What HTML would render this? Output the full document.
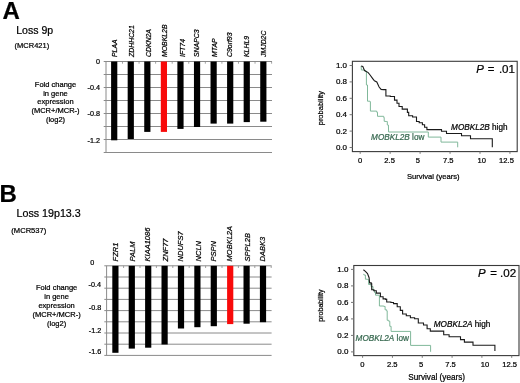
<!DOCTYPE html>
<html><head><meta charset="utf-8"><title>Figure</title>
<style>
html,body{margin:0;padding:0;background:#fff;}
body{width:520px;height:383px;overflow:hidden;}
svg{display:block;will-change:transform;}
text{font-family:"Liberation Sans", sans-serif;fill:#000;stroke:#000;stroke-width:0.22px;}
</style></head>
<body>
<svg width="520" height="383" viewBox="0 0 520 383" font-family='"Liberation Sans", sans-serif'>
<rect width="520" height="383" fill="#fff"/>
<text x="2.6" y="19.3" font-size="24" font-weight="bold">A</text>
<text x="16.2" y="33.5" font-size="10.55">Loss 9p</text>
<text x="14.6" y="48.1" font-size="7.5">(MCR421)</text>
<text x="-0.4" y="202.2" font-size="24" font-weight="bold">B</text>
<text x="16.5" y="217.0" font-size="10.7">Loss 19p13.3</text>
<text x="11.3" y="232.6" font-size="7.6">(MCR537)</text>
<text x="55.5" y="86.80" font-size="7.5" text-anchor="middle">Fold change</text>
<text x="55.5" y="95.55" font-size="7.5" text-anchor="middle">in gene</text>
<text x="55.5" y="104.30" font-size="7.5" text-anchor="middle">expression</text>
<text x="55.5" y="113.05" font-size="7.5" text-anchor="middle">(MCR+/MCR-)</text>
<text x="55.5" y="121.80" font-size="7.5" text-anchor="middle">(log2)</text>
<text x="56.6" y="289.60" font-size="7.5" text-anchor="middle">Fold change</text>
<text x="56.6" y="298.60" font-size="7.5" text-anchor="middle">in gene</text>
<text x="56.6" y="307.60" font-size="7.5" text-anchor="middle">expression</text>
<text x="56.6" y="316.60" font-size="7.5" text-anchor="middle">(MCR+/MCR-)</text>
<text x="56.6" y="325.60" font-size="7.5" text-anchor="middle">(log2)</text>
<line x1="103.70" y1="61.50" x2="272.00" y2="61.50" stroke="#8a8a8a" stroke-width="1"/>
<line x1="103.70" y1="74.50" x2="272.00" y2="74.50" stroke="#8a8a8a" stroke-width="1"/>
<line x1="103.70" y1="87.50" x2="272.00" y2="87.50" stroke="#8a8a8a" stroke-width="1"/>
<line x1="103.70" y1="100.50" x2="272.00" y2="100.50" stroke="#8a8a8a" stroke-width="1"/>
<line x1="103.70" y1="113.50" x2="272.00" y2="113.50" stroke="#8a8a8a" stroke-width="1"/>
<line x1="103.70" y1="126.50" x2="272.00" y2="126.50" stroke="#8a8a8a" stroke-width="1"/>
<line x1="103.70" y1="139.50" x2="272.00" y2="139.50" stroke="#8a8a8a" stroke-width="1"/>
<line x1="103.70" y1="152.50" x2="272.00" y2="152.50" stroke="#8a8a8a" stroke-width="1"/>
<line x1="106.00" y1="61.50" x2="106.00" y2="152.50" stroke="#8a8a8a" stroke-width="1"/>
<line x1="122.48" y1="61.50" x2="122.48" y2="63.70" stroke="#8a8a8a" stroke-width="0.8"/>
<line x1="139.05" y1="61.50" x2="139.05" y2="63.70" stroke="#8a8a8a" stroke-width="0.8"/>
<line x1="155.62" y1="61.50" x2="155.62" y2="63.70" stroke="#8a8a8a" stroke-width="0.8"/>
<line x1="172.19" y1="61.50" x2="172.19" y2="63.70" stroke="#8a8a8a" stroke-width="0.8"/>
<line x1="188.76" y1="61.50" x2="188.76" y2="63.70" stroke="#8a8a8a" stroke-width="0.8"/>
<line x1="205.33" y1="61.50" x2="205.33" y2="63.70" stroke="#8a8a8a" stroke-width="0.8"/>
<line x1="221.90" y1="61.50" x2="221.90" y2="63.70" stroke="#8a8a8a" stroke-width="0.8"/>
<line x1="238.47" y1="61.50" x2="238.47" y2="63.70" stroke="#8a8a8a" stroke-width="0.8"/>
<line x1="255.04" y1="61.50" x2="255.04" y2="63.70" stroke="#8a8a8a" stroke-width="0.8"/>
<line x1="271.62" y1="61.50" x2="271.62" y2="63.70" stroke="#8a8a8a" stroke-width="0.8"/>
<rect x="111.10" y="61.50" width="6.20" height="78.80" fill="#000"/>
<rect x="127.67" y="61.50" width="6.20" height="77.50" fill="#000"/>
<rect x="144.24" y="61.50" width="6.20" height="70.40" fill="#000"/>
<rect x="160.81" y="61.50" width="6.20" height="70.40" fill="#f80a0a"/>
<rect x="177.38" y="61.50" width="6.20" height="67.40" fill="#000"/>
<rect x="193.95" y="61.50" width="6.20" height="65.50" fill="#000"/>
<rect x="210.52" y="61.50" width="6.20" height="62.10" fill="#000"/>
<rect x="227.09" y="61.50" width="6.20" height="62.10" fill="#000"/>
<rect x="243.66" y="61.50" width="6.20" height="60.60" fill="#000"/>
<rect x="260.23" y="61.50" width="6.20" height="60.20" fill="#000"/>
<text transform="translate(117.40,57.00) rotate(-90)" font-size="6.9" font-style="italic">PLAA</text>
<text transform="translate(133.97,57.00) rotate(-90)" font-size="6.9" font-style="italic">ZDHHC21</text>
<text transform="translate(150.54,57.00) rotate(-90)" font-size="6.9" font-style="italic">CDKN2A</text>
<text transform="translate(167.11,57.00) rotate(-90)" font-size="6.9" font-style="italic">MOBKL2B</text>
<text transform="translate(184.98,57.00) rotate(-90)" font-size="6.9" font-style="italic">IFT74</text>
<text transform="translate(199.45,57.00) rotate(-90)" font-size="6.9" font-style="italic">SNAPC3</text>
<text transform="translate(216.82,57.00) rotate(-90)" font-size="6.9" font-style="italic">MTAP</text>
<text transform="translate(232.19,57.00) rotate(-90)" font-size="6.9" font-style="italic">C9orf93</text>
<text transform="translate(249.46,57.00) rotate(-90)" font-size="6.9" font-style="italic">KLHL9</text>
<text transform="translate(265.63,57.00) rotate(-90)" font-size="6.9" font-style="italic">JMJD2C</text>
<text x="100.0" y="63.7" font-size="7.2" text-anchor="end">0</text>
<text x="100.0" y="89.8" font-size="7.2" text-anchor="end">-0.4</text>
<text x="100.0" y="116.3" font-size="7.2" text-anchor="end">-0.8</text>
<text x="100.0" y="142.6" font-size="7.2" text-anchor="end">-1.2</text>
<line x1="104.30" y1="265.80" x2="271.60" y2="265.80" stroke="#8a8a8a" stroke-width="1"/>
<line x1="104.30" y1="277.00" x2="271.60" y2="277.00" stroke="#8a8a8a" stroke-width="1"/>
<line x1="104.30" y1="288.20" x2="271.60" y2="288.20" stroke="#8a8a8a" stroke-width="1"/>
<line x1="104.30" y1="299.40" x2="271.60" y2="299.40" stroke="#8a8a8a" stroke-width="1"/>
<line x1="104.30" y1="310.60" x2="271.60" y2="310.60" stroke="#8a8a8a" stroke-width="1"/>
<line x1="104.30" y1="321.80" x2="271.60" y2="321.80" stroke="#8a8a8a" stroke-width="1"/>
<line x1="104.30" y1="333.00" x2="271.60" y2="333.00" stroke="#8a8a8a" stroke-width="1"/>
<line x1="104.30" y1="344.20" x2="271.60" y2="344.20" stroke="#8a8a8a" stroke-width="1"/>
<line x1="104.30" y1="355.40" x2="271.60" y2="355.40" stroke="#8a8a8a" stroke-width="1"/>
<line x1="106.60" y1="265.80" x2="106.60" y2="355.40" stroke="#8a8a8a" stroke-width="1"/>
<line x1="123.60" y1="265.80" x2="123.60" y2="268.00" stroke="#8a8a8a" stroke-width="0.8"/>
<line x1="140.00" y1="265.80" x2="140.00" y2="268.00" stroke="#8a8a8a" stroke-width="0.8"/>
<line x1="156.40" y1="265.80" x2="156.40" y2="268.00" stroke="#8a8a8a" stroke-width="0.8"/>
<line x1="172.80" y1="265.80" x2="172.80" y2="268.00" stroke="#8a8a8a" stroke-width="0.8"/>
<line x1="189.20" y1="265.80" x2="189.20" y2="268.00" stroke="#8a8a8a" stroke-width="0.8"/>
<line x1="205.60" y1="265.80" x2="205.60" y2="268.00" stroke="#8a8a8a" stroke-width="0.8"/>
<line x1="222.00" y1="265.80" x2="222.00" y2="268.00" stroke="#8a8a8a" stroke-width="0.8"/>
<line x1="238.40" y1="265.80" x2="238.40" y2="268.00" stroke="#8a8a8a" stroke-width="0.8"/>
<line x1="254.80" y1="265.80" x2="254.80" y2="268.00" stroke="#8a8a8a" stroke-width="0.8"/>
<line x1="271.20" y1="265.80" x2="271.20" y2="268.00" stroke="#8a8a8a" stroke-width="0.8"/>
<rect x="112.30" y="265.80" width="6.20" height="87.00" fill="#000"/>
<rect x="128.70" y="265.80" width="6.20" height="82.80" fill="#000"/>
<rect x="145.10" y="265.80" width="6.20" height="81.90" fill="#000"/>
<rect x="161.50" y="265.80" width="6.20" height="78.70" fill="#000"/>
<rect x="177.90" y="265.80" width="6.20" height="62.70" fill="#000"/>
<rect x="194.30" y="265.80" width="6.20" height="61.40" fill="#000"/>
<rect x="210.70" y="265.80" width="6.20" height="60.40" fill="#000"/>
<rect x="227.10" y="265.80" width="6.20" height="58.30" fill="#f80a0a"/>
<rect x="243.50" y="265.80" width="6.20" height="57.90" fill="#000"/>
<rect x="259.90" y="265.80" width="6.20" height="56.40" fill="#000"/>
<text transform="translate(118.20,261.40) rotate(-90)" font-size="7.5" font-style="italic">FZR1</text>
<text transform="translate(134.50,261.40) rotate(-90)" font-size="7.5" font-style="italic">PALM</text>
<text transform="translate(149.60,261.40) rotate(-90)" font-size="7.5" font-style="italic">KIAA1086</text>
<text transform="translate(167.60,261.40) rotate(-90)" font-size="7.5" font-style="italic">ZNF77</text>
<text transform="translate(183.20,261.40) rotate(-90)" font-size="7.5" font-style="italic">NDUFS7</text>
<text transform="translate(200.50,261.40) rotate(-90)" font-size="7.5" font-style="italic">NCLN</text>
<text transform="translate(215.70,261.40) rotate(-90)" font-size="7.5" font-style="italic">PSPN</text>
<text transform="translate(232.20,261.40) rotate(-90)" font-size="7.5" font-style="italic">MOBKL2A</text>
<text transform="translate(249.70,261.40) rotate(-90)" font-size="7.5" font-style="italic">SPPL2B</text>
<text transform="translate(265.00,261.40) rotate(-90)" font-size="7.5" font-style="italic">DABK3</text>
<text x="92.2" y="264.8" font-size="7.2" text-anchor="middle">0</text>
<text x="101.0" y="287.2" font-size="7.2" text-anchor="end">-0.4</text>
<text x="101.2" y="310.2" font-size="7.2" text-anchor="end">-0.8</text>
<text x="101.2" y="332.6" font-size="7.2" text-anchor="end">-1.2</text>
<text x="101.2" y="353.6" font-size="7.2" text-anchor="end">-1.6</text>
<rect x="352.40" y="61.30" width="164.80" height="90.30" fill="none" stroke="#3a3a3a" stroke-width="1.1"/>
<line x1="349.60" y1="65.50" x2="352.40" y2="65.50" stroke="#777" stroke-width="1"/>
<text x="347.00" y="67.90" font-size="8.0" text-anchor="end">1.0</text>
<line x1="349.60" y1="81.90" x2="352.40" y2="81.90" stroke="#777" stroke-width="1"/>
<text x="347.00" y="84.30" font-size="8.0" text-anchor="end">0.8</text>
<line x1="349.60" y1="98.30" x2="352.40" y2="98.30" stroke="#777" stroke-width="1"/>
<text x="347.00" y="100.70" font-size="8.0" text-anchor="end">0.6</text>
<line x1="349.60" y1="114.70" x2="352.40" y2="114.70" stroke="#777" stroke-width="1"/>
<text x="347.00" y="117.10" font-size="8.0" text-anchor="end">0.4</text>
<line x1="349.60" y1="131.10" x2="352.40" y2="131.10" stroke="#777" stroke-width="1"/>
<text x="347.00" y="133.50" font-size="8.0" text-anchor="end">0.2</text>
<line x1="349.60" y1="147.50" x2="352.40" y2="147.50" stroke="#777" stroke-width="1"/>
<text x="347.00" y="149.90" font-size="8.0" text-anchor="end">0.0</text>
<line x1="360.20" y1="151.60" x2="360.20" y2="153.80" stroke="#777" stroke-width="1"/>
<text x="360.10" y="162.90" font-size="7.6" text-anchor="middle">0</text>
<line x1="390.15" y1="151.60" x2="390.15" y2="153.80" stroke="#777" stroke-width="1"/>
<text x="389.60" y="162.90" font-size="7.6" text-anchor="middle">2.5</text>
<line x1="420.10" y1="151.60" x2="420.10" y2="153.80" stroke="#777" stroke-width="1"/>
<text x="417.80" y="162.90" font-size="7.6" text-anchor="middle">5</text>
<line x1="450.05" y1="151.60" x2="450.05" y2="153.80" stroke="#777" stroke-width="1"/>
<text x="448.20" y="162.90" font-size="7.6" text-anchor="middle">7.5</text>
<line x1="480.00" y1="151.60" x2="480.00" y2="153.80" stroke="#777" stroke-width="1"/>
<text x="481.80" y="162.90" font-size="7.6" text-anchor="middle">10</text>
<line x1="509.95" y1="151.60" x2="509.95" y2="153.80" stroke="#777" stroke-width="1"/>
<text x="506.50" y="162.90" font-size="7.6" text-anchor="middle">12.5</text>
<polyline points="361.1,66.0 361.4,70.0 364.5,70.0 364.5,70.6 365.9,70.6 365.9,71.6 366.4,71.6 366.4,85.0 367.5,85.0 367.5,101.2 369.9,101.2 369.9,101.7 370.4,101.7 370.4,111.1 376.7,111.1 376.7,112.2 377.5,112.2 377.5,116.3 383.7,116.3 383.7,117.4 384.2,117.4 384.2,121.3 386.8,121.5 387.3,121.5 387.3,124.9 388.4,125.0 388.6,132.0 428.0,132.0 428.3,132.0 428.3,137.1 441.0,137.1 441.0,142.1 457.7,142.1 457.7,147.3" fill="none" stroke="#80b89a" stroke-width="1"/>
<polyline points="361.1,66.0 362.8,66.4 364.5,70.5 368.2,72.6 369.7,74.5 372.9,78.8 374.4,80.8 376.8,82.0 379.1,87.0 381.1,89.4 383.5,89.6 385.9,89.6 385.9,96.0 390.3,96.0 390.3,96.5 394.5,96.5 394.5,100.1 397.0,100.1 397.0,103.3 399.0,103.3 399.0,106.5 402.2,106.5 402.2,109.1 407.4,109.1 407.4,112.4 408.7,112.4 408.7,115.7 412.6,115.7 412.6,117.0 416.5,117.0 416.5,121.5 419.2,121.5 419.2,122.8 422.4,122.8 422.4,124.8 424.6,124.8 424.6,127.3 426.9,127.3 426.9,129.6 440.0,129.6 441.5,129.6 441.5,131.2 445.4,131.2 446.5,131.2 446.5,133.5 460.8,133.5 461.5,133.5 461.5,135.8 469.2,135.8 470.5,135.8 470.5,138.8 492.3,138.8 492.3,147.3" fill="none" stroke="#1a1a1a" stroke-width="1.1"/>
<text x="476.2" y="73.3" font-size="11.4" font-style="italic">P</text>
<text x="487.8" y="73.3" font-size="11.4">=</text>
<text x="498.9" y="73.3" font-size="11.6">.01</text>
<text x="451.1" y="130.0" font-size="8.2"><tspan font-style="italic">MOBKL2B</tspan> high</text>
<text x="371.1" y="140.0" font-size="8.2" style="fill:#36684f;stroke:#36684f"><tspan font-style="italic">MOBKL2B</tspan> low</text>
<text transform="translate(323.2,108.2) rotate(-90)" font-size="7.5" text-anchor="middle">probability</text>
<text x="406.9" y="179.4" font-size="7.6">Survival (years)</text>
<rect x="353.80" y="265.50" width="165.20" height="90.10" fill="none" stroke="#3a3a3a" stroke-width="1.1"/>
<line x1="351.00" y1="269.40" x2="353.80" y2="269.40" stroke="#777" stroke-width="1"/>
<text x="348.40" y="271.80" font-size="8.0" text-anchor="end">1.0</text>
<line x1="351.00" y1="285.90" x2="353.80" y2="285.90" stroke="#777" stroke-width="1"/>
<text x="348.40" y="288.30" font-size="8.0" text-anchor="end">0.8</text>
<line x1="351.00" y1="302.40" x2="353.80" y2="302.40" stroke="#777" stroke-width="1"/>
<text x="348.40" y="304.80" font-size="8.0" text-anchor="end">0.6</text>
<line x1="351.00" y1="318.90" x2="353.80" y2="318.90" stroke="#777" stroke-width="1"/>
<text x="348.40" y="321.30" font-size="8.0" text-anchor="end">0.4</text>
<line x1="351.00" y1="335.40" x2="353.80" y2="335.40" stroke="#777" stroke-width="1"/>
<text x="348.40" y="337.80" font-size="8.0" text-anchor="end">0.2</text>
<line x1="351.00" y1="351.90" x2="353.80" y2="351.90" stroke="#777" stroke-width="1"/>
<text x="348.40" y="354.30" font-size="8.0" text-anchor="end">0.0</text>
<line x1="362.60" y1="355.60" x2="362.60" y2="357.80" stroke="#777" stroke-width="1"/>
<text x="362.40" y="366.80" font-size="7.6" text-anchor="middle">0</text>
<line x1="392.43" y1="355.60" x2="392.43" y2="357.80" stroke="#777" stroke-width="1"/>
<text x="392.20" y="366.80" font-size="7.6" text-anchor="middle">2.5</text>
<line x1="422.25" y1="355.60" x2="422.25" y2="357.80" stroke="#777" stroke-width="1"/>
<text x="421.00" y="366.80" font-size="7.6" text-anchor="middle">5</text>
<line x1="452.08" y1="355.60" x2="452.08" y2="357.80" stroke="#777" stroke-width="1"/>
<text x="450.55" y="366.80" font-size="7.6" text-anchor="middle">7.5</text>
<line x1="481.90" y1="355.60" x2="481.90" y2="357.80" stroke="#777" stroke-width="1"/>
<text x="484.90" y="366.80" font-size="7.6" text-anchor="middle">10</text>
<line x1="511.73" y1="355.60" x2="511.73" y2="357.80" stroke="#777" stroke-width="1"/>
<text x="509.65" y="366.80" font-size="7.6" text-anchor="middle">12.5</text>
<polyline points="363.4,274.3 363.9,274.3 363.9,275.0 365.4,275.0 365.4,279.2 367.5,279.2 367.5,279.5 368.6,279.5 368.6,284.5 371.0,284.5 371.0,286.5 373.0,286.5 373.0,290.0 374.5,290.0 374.5,292.5 375.5,292.5 375.5,295.2 378.9,295.2 378.9,295.5 379.4,295.5 379.4,306.0 383.8,306.0 383.8,306.4 385.1,306.4 385.1,309.8 386.7,309.8 386.7,310.9 387.2,310.9 387.2,320.3 388.8,320.3 388.8,321.3 389.8,321.3 389.8,326.3 391.1,326.3 391.1,331.4 410.6,331.4 410.6,345.4 430.6,345.4 430.6,351.8" fill="none" stroke="#80b89a" stroke-width="1"/>
<polyline points="363.4,269.8 365.4,271.4 367.5,273.5 369.1,277.7 369.6,282.9 371.2,282.9 371.2,283.9 371.7,283.9 371.7,289.7 373.8,289.7 373.8,290.7 376.3,290.7 376.3,293.1 380.4,293.1 380.4,296.8 383.1,296.8 383.1,298.9 385.7,298.9 385.7,299.4 386.7,299.4 386.7,302.0 390.9,302.0 390.9,302.5 393.5,302.5 393.5,303.6 397.2,303.6 397.2,306.7 400.3,306.7 400.3,310.4 402.6,310.4 402.6,314.0 406.3,314.0 406.3,315.7 410.4,315.7 410.4,317.7 414.6,317.7 414.6,318.8 418.3,318.8 418.3,323.0 423.5,323.0 423.5,325.0 427.1,325.0 427.1,328.7 430.3,328.7 430.3,331.1 442.4,331.1 443.7,331.1 443.7,334.8 449.1,334.8 449.1,336.7 459.6,336.7 460.5,336.7 460.5,339.6 463.4,339.6 464.4,339.6 464.4,342.1 472.0,342.1 473.0,342.1 473.0,345.3 494.9,345.3 494.9,351.0" fill="none" stroke="#1a1a1a" stroke-width="1.1"/>
<text x="477.9" y="277.4" font-size="11.4" font-style="italic">P</text>
<text x="490.2" y="277.4" font-size="11.4">=</text>
<text x="500.0" y="277.4" font-size="11.6">.02</text>
<text x="433.8" y="327.2" font-size="8.2"><tspan font-style="italic">MOBKL2A</tspan> high</text>
<text x="355.6" y="340.6" font-size="8.2" style="fill:#36684f;stroke:#36684f"><tspan font-style="italic">MOBKL2A</tspan> low</text>
<text transform="translate(323.0,305.6) rotate(-90)" font-size="7.1" text-anchor="middle">probability</text>
<text x="408.2" y="380.4" font-size="8.2">Survival (years)</text>
</svg>
</body></html>
